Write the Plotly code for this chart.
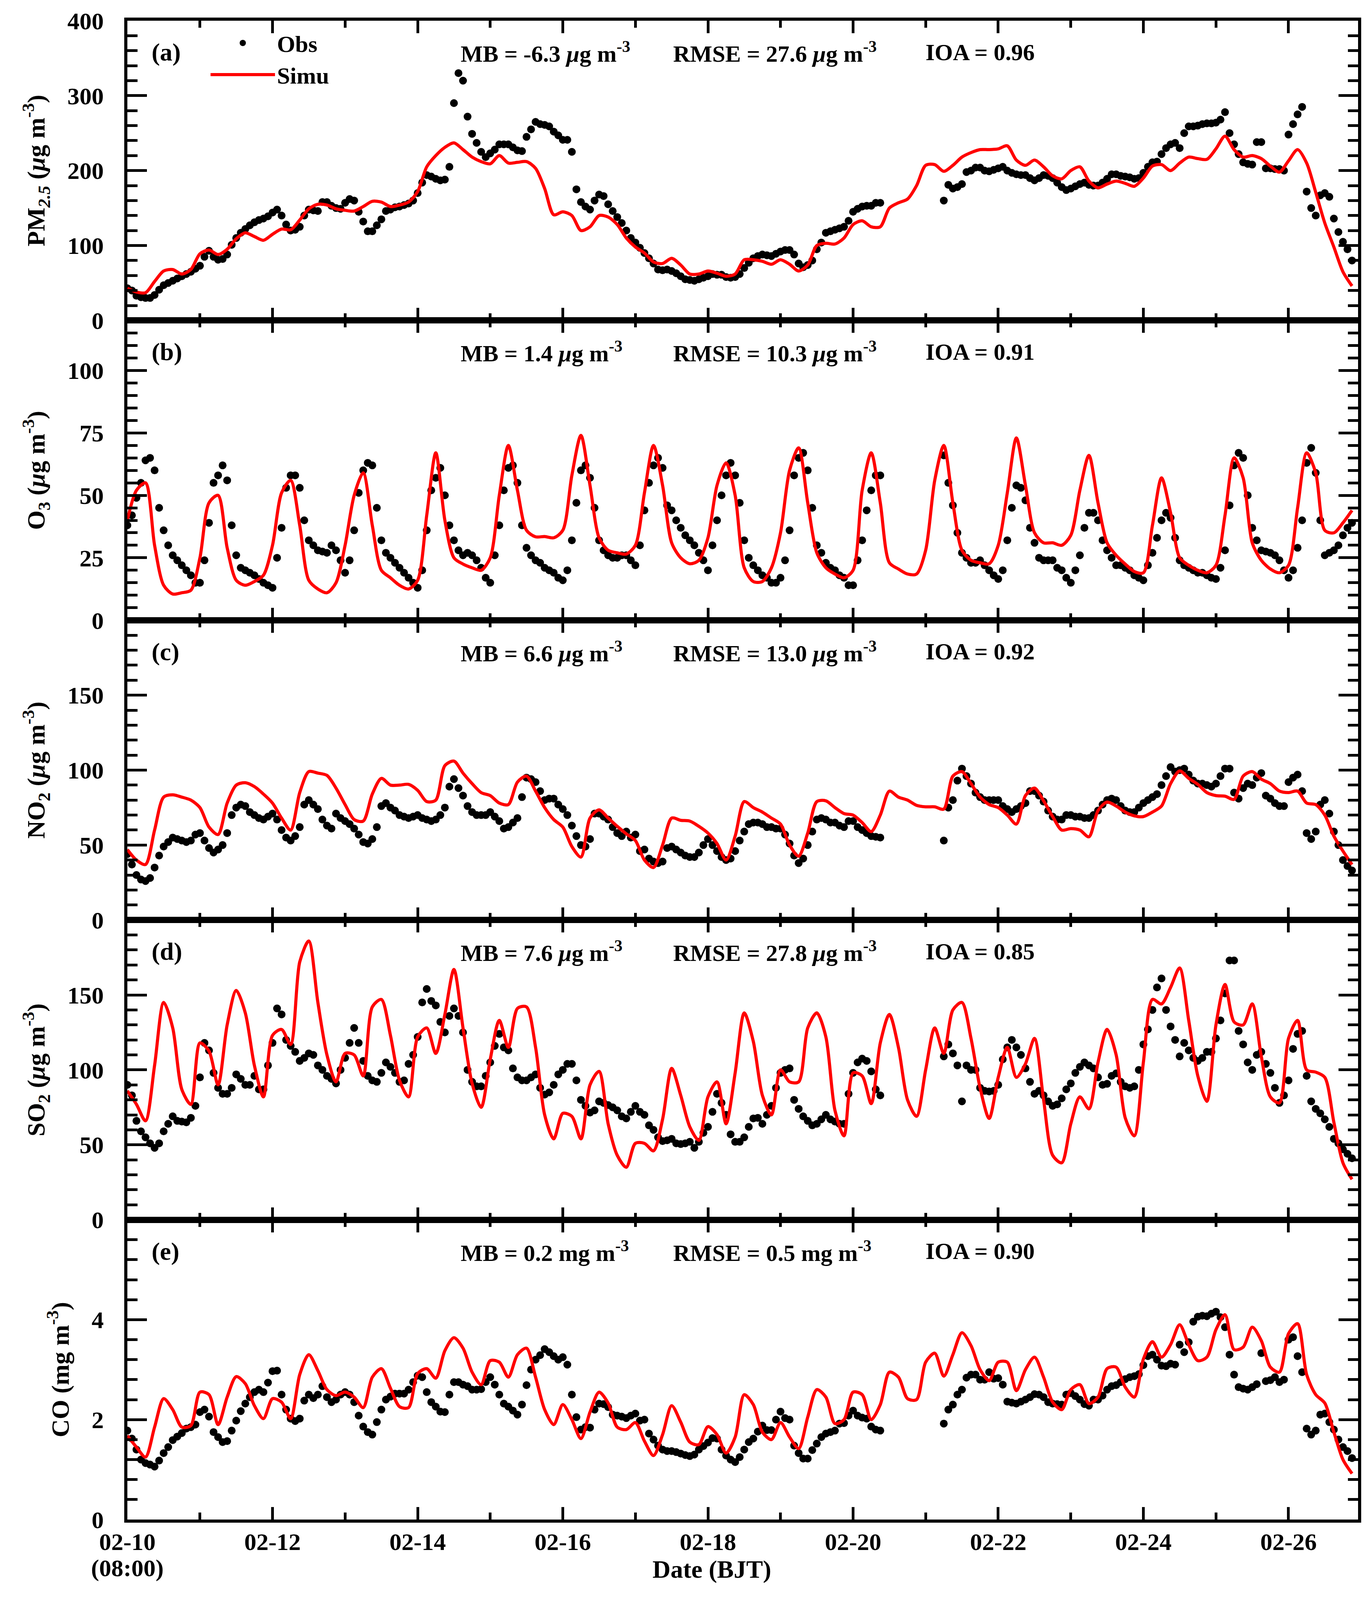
import plotly.graph_objects as go
from plotly.subplots import make_subplots

# hours since 02-10 08:00 (BJT): readings every 3 h, plus the observations read in between
hours = list(range(0, 406, 3))
hours_mid = [h + 1.5 for h in hours[:-1]]
GAP = [None] * 6
GAP_MID = [None] * 7

pm_obs = [43, 33, 30, 34, 47, 53, 59, 65, 73, 93, 81, 88, 110, 122, 131, 136, 144, 140, 120, 125,
          148, 146, 158, 150, 157, 160, 132, 119, 135, 148, 152, 156, 170, 194, 189, 188, 290, 320, 249, 225,
          223, 235, 235, 227, 245, 265, 261, 252, 241, 225, 158, 148, 168, 155, 138, 120, 104, 90, 76, 67,
          66, 59, 54, 55, 59, 61, 58, 58, 70, 83, 88, 86, 92, 94, 76, 74, 95, 117, 121, 125,
          145, 152, 153, 157] + GAP + \
         [160, 176, 182, 200, 204, 199, 203, 200, 195, 194, 187, 194, 190, 178, 176, 182, 181, 180, 189, 195,
          192, 189, 197, 211, 222, 235, 230, 259, 260, 263, 264, 278, 235, 211, 208, 238, 203, 202, 248, 275,
          172, 140, 170, 136, 105, 80]
pm_obs_mid = [40, 31, 30, 41, 50, 56, 62, 69, 85, 85, 82, 101, 117, 127, 134, 139, 148, 128, 121, 140,
              147, 158, 153, 149, 162, 145, 119, 127, 146, 151, 154, 160, 184, 192, 187, 205, 330, 272, 237, 218,
              228, 235, 231, 226, 255, 262, 259, 247, 241, 175, 152, 160, 166, 146, 130, 110, 97, 83, 68, 68,
              63, 55, 53, 57, 62, 61, 57, 62, 77, 86, 87, 89, 94, 88, 71, 80, 104, 119, 123, 133,
              149, 153, 157] + GAP_MID + \
             [181, 178, 198, 204, 200, 201, 205, 197, 194, 190, 190, 193, 184, 174, 179, 184, 180, 184, 195, 193,
              191, 190, 205, 212, 230, 237, 250, 259, 262, 263, 268, 250, 222, 209, 238, 203, 202, 200, 262, 285,
              150, 167, 165, 118, 95]
pm_sim = [43, 38, 37, 52, 66, 68, 62, 68, 89, 94, 88, 95, 109, 117, 112, 107, 115, 122, 121, 134,
          149, 155, 154, 149, 147, 146, 152, 159, 158, 152, 154, 158, 172, 205, 220, 231, 237, 228, 218, 212,
          209, 220, 210, 211, 212, 203, 176, 141, 145, 140, 120, 125, 140, 138, 128, 110, 98, 90, 78, 76,
          83, 74, 62, 62, 66, 63, 59, 62, 81, 81, 79, 75, 81, 75, 66, 74, 100, 103, 102, 110,
          128, 133, 125, 125, 150, 157, 162, 180, 207, 208, 199, 207, 218, 224, 228, 228, 229, 233, 214, 207,
          214, 205, 193, 189, 200, 205, 186, 177, 182, 186, 183, 179, 190, 206, 208, 200, 210, 218, 216, 215,
          229, 246, 228, 218, 220, 216, 206, 198, 213, 228, 210, 171, 130, 98, 65, 46]

o3_obs = [38, 49, 64, 60, 36, 26, 22, 18, 15, 39, 58, 56, 26, 20, 18, 15, 13, 37, 58, 53,
          32, 28, 27, 28, 19, 36, 60, 62, 32, 25, 21, 17, 13, 36, 57, 50, 32, 26, 26, 21,
          15, 38, 61, 55, 29, 24, 21, 19, 16, 32, 60, 57, 32, 26, 25, 26, 22, 44, 62, 61,
          44, 37, 32, 27, 20, 40, 58, 58, 32, 22, 18, 15, 17, 36, 65, 60, 30, 23, 20, 17,
          14, 32, 52, 58] + GAP + \
         [66, 46, 27, 23, 24, 20, 16.5, 32, 54, 48, 31, 24, 24, 20, 15, 26, 43, 40, 28, 22,
          21, 18, 16, 27, 40, 41, 24, 21, 19, 18, 16.5, 28, 62, 65, 37, 28, 27, 24, 17, 29,
          63, 59, 26, 28, 34, 39]
o3_obs_mid = [42, 55, 65, 45, 30, 24, 20, 15, 24, 55, 62, 38, 21, 19, 16.5, 14, 25, 53, 58, 40,
              30, 27.5, 30, 24, 24, 51, 63, 45, 27, 23, 19, 15, 20, 52, 61, 38, 28, 27, 24, 17,
              26, 52, 62, 38, 26, 23, 20, 17, 20, 47, 62, 45, 28, 25, 26, 24, 30, 55, 65, 46,
              40, 34, 30, 24, 30, 50, 63, 47, 25, 20, 17, 15, 24, 58, 67, 45, 27, 21, 18, 14,
              24, 44, 58] + GAP_MID + \
             [55, 35, 25, 23, 22, 18, 20, 45, 53, 37, 25, 24, 21, 17, 20, 37, 43, 32, 25, 22,
              20, 17, 22, 33, 43, 33, 22, 20, 19, 17, 21, 46, 67, 50, 32, 27.5, 26, 20, 20, 40,
              69, 40, 27, 30, 37]
o3_sim = [40, 52, 55, 30, 14, 10.5, 11, 12, 25, 47, 50, 29, 16, 14, 15.5, 18, 30, 51, 56, 38,
          16, 12.5, 11, 15, 30, 50, 59, 38, 20, 17, 14, 12.5, 16, 42, 67, 40, 25, 22.5, 21, 20,
          25, 50, 70, 52, 36, 33.4, 33.5, 33, 36, 58, 74, 54, 33, 28, 27, 26.5, 30, 51, 70, 54,
          31, 25, 22.6, 24, 33, 54, 63, 50, 21, 15.5, 15.5, 21, 35, 60, 69, 47, 27, 21, 18.5, 17,
          20, 52, 67, 47, 23, 20.5, 18.5, 18.5, 28, 56, 70, 47, 28, 24, 23, 22.6, 30, 51, 73, 54,
          35, 31, 31, 30, 34, 52, 66, 47, 31, 26, 22.5, 19.5, 19, 38, 57, 43, 25, 22, 20, 19,
          22, 42, 65, 57, 31, 24, 20.5, 19, 22, 45, 67, 59, 36, 35, 39, 44]

no2_obs = [44, 30, 26, 35, 49, 55, 53, 53, 58, 48, 47, 58, 75, 76, 70, 67, 71, 60, 53, 62,
           80, 74, 63, 71, 66, 61, 52, 54, 76, 75, 70, 68, 70, 67, 67, 75, 94, 83, 72, 70,
           72, 66, 62, 68, 95, 92, 80, 81, 74, 63, 50, 54, 71, 67, 58, 59, 57, 47, 39, 39,
           49, 45, 42, 45, 54, 46, 40, 46, 59, 65, 64, 62, 61, 51, 38, 50, 67, 67, 65, 62,
           66, 60, 56, 55] + GAP + \
          [53, 80, 101, 91, 82, 80, 80, 74, 74, 78, 86, 79, 69, 67, 70, 69, 68, 73, 80, 80,
           73, 72, 78, 82, 90, 102, 100, 97, 91, 90, 91, 101, 85, 88, 90, 98, 81, 76, 92, 97,
           58, 59, 80, 59, 40, 33]
no2_obs_mid = [37, 27, 28, 43, 52, 54, 52, 57, 53, 45, 50, 70, 77, 72, 68, 69, 67, 55, 56, 77,
               77, 67, 61, 68, 64, 57, 51, 62, 78, 73, 69, 69, 68, 66, 70, 89, 88, 76, 70, 70,
               69, 61, 65, 82, 94, 86, 81, 77, 70, 56, 49, 71, 69, 62, 56, 55, 46, 41, 38, 48,
               47, 43, 42, 50, 50, 42, 41, 53, 64, 65, 62, 61, 57, 43, 41, 59, 68, 65, 63, 66,
               62, 58, 55.5] + GAP_MID + \
              [75, 93, 96, 85, 80, 80, 76, 72, 76, 86, 83, 73, 67, 70, 69, 68, 70, 77, 81, 76,
               72, 75, 80, 84, 96, 99, 101, 93, 91, 89, 96, 101, 81, 91, 95, 83, 78, 76, 95, 86,
               54, 77, 71, 50, 36]
no2_sim = [47, 40, 37, 60, 82, 83.5, 82, 80, 75, 62, 57, 78, 90, 91.6, 89, 84, 78, 68, 60, 85,
           99, 98, 96.5, 88, 77, 67, 66, 84, 94.5, 90, 90, 90.5, 86.5, 79, 80, 103, 106, 98, 91, 85,
           83, 78, 77, 92, 96, 86, 75, 67, 62, 49, 42, 68, 73.5, 68, 62.5, 57.5, 53, 40, 35, 50,
           68, 66.5, 66, 62.5, 58, 51, 40, 56, 79, 75, 72, 68, 64, 50, 42.6, 58, 79, 79.5, 75, 71,
           70, 65, 59, 70, 86, 82, 80, 76.5, 75.5, 75.5, 74, 96, 99, 91, 82, 77, 75, 70, 64, 83,
           88, 79.5, 69, 60, 61, 60, 55.5, 73, 78.7, 76, 72, 69.5, 69, 72, 76, 91, 99.5, 94.5, 90.5, 85,
           83, 82.6, 80.5, 96, 99, 94, 91, 86, 85, 86, 78, 77, 70, 56, 46, 37]

so2_obs = [90, 66, 55, 48, 59, 69, 65.5, 68, 95, 113, 88, 84, 97, 90, 96, 87, 118, 137, 116, 106,
           111, 103, 96, 91, 108, 128, 106, 93, 98, 102, 92, 104, 122, 154, 143, 125, 141, 125, 92, 89,
           105, 124, 113, 95, 93, 97, 83.5, 90, 100, 104, 80, 71.5, 79, 76.5, 73, 67.6, 76, 70, 60, 52.5,
           54, 50.5, 52, 52, 62, 84, 70, 52, 55, 67.6, 64, 76, 98, 101, 74, 66, 64, 70, 65.5, 64,
           98, 107.5, 99, 83] + GAP + \
          [109, 111, 79, 100, 88, 85.6, 90, 115, 115, 101, 84, 83, 76, 81, 91, 102, 103, 95, 90.7, 97.7,
           89, 89, 117, 140, 161, 129, 109, 113, 106, 112, 121, 151, 173, 117, 100, 112, 98, 78, 93, 124,
           96, 74, 67, 54, 47, 41]
so2_obs_mid = [83, 59, 51, 51, 64, 66, 65, 76, 118, 98, 84, 88, 94, 90, 87, 103, 141, 120, 112, 108,
               110, 100, 94, 100, 118, 118, 96, 92, 105, 98, 93, 110, 145, 146, 132, 136, 136, 100, 89, 96,
               116, 115, 101, 93, 95, 88, 85, 97, 104, 93, 76, 73, 78, 75, 69, 72, 72, 63, 55, 53,
               51, 51, 48, 58, 72, 78, 57, 52, 62, 68, 70, 88, 100, 80, 69, 63, 67, 67, 64, 84,
               105, 106, 87] + GAP_MID + \
              [117, 103, 103, 100, 86, 86, 107, 120, 110, 92, 86, 79, 77, 87, 98, 105, 101, 90, 96, 92,
               88, 100, 127, 155, 140, 120, 118, 108, 108, 112, 133, 173, 126, 105, 110, 104, 88, 83, 114, 126,
               79, 71, 62, 51, 44]
so2_sim = [86, 77, 66, 103, 145, 128, 87, 77, 118, 112.6, 90, 130, 153, 138, 103, 82, 123, 127, 117, 172,
           186, 145, 110, 92, 111, 110, 96, 142, 147, 123, 93, 82, 122, 128, 111, 137, 167, 128, 91, 75,
           107, 133, 115, 141, 142, 115, 70, 54, 71, 69, 54, 90, 99, 64, 43, 35, 51, 51, 46, 67,
           101, 83, 62, 53, 82, 92, 64, 98, 138, 119, 83, 70, 100, 92, 92, 128, 138, 122, 73, 56,
           98, 96, 77.5, 118, 137, 115, 80, 69, 100, 128, 111, 140, 145, 121, 88, 67.6, 95, 115, 95, 104,
           121, 80, 43, 38, 64, 82, 74, 105, 127, 110, 68, 56, 105, 147, 144, 155, 168, 133, 96, 79,
           130, 157, 132, 130, 144, 109, 82, 78, 121, 133, 100, 98.5, 95, 65, 38, 27]

co_obs = [1.78, 1.40, 1.13, 1.06, 1.33, 1.59, 1.73, 1.85, 2.15, 2.06, 1.65, 1.57, 1.98, 2.32, 2.55, 2.55,
          2.97, 2.50, 2.02, 2.02, 2.50, 2.50, 2.45, 2.40, 2.55, 2.35, 1.86, 1.70, 2.20, 2.46, 2.52, 2.60,
          2.88, 2.55, 2.26, 2.15, 2.75, 2.70, 2.60, 2.61, 2.85, 2.50, 2.26, 2.10, 2.69, 3.20, 3.41, 3.27,
          3.25, 2.50, 1.80, 1.84, 2.32, 2.25, 2.08, 2.03, 2.12, 2.00, 1.60, 1.40, 1.37, 1.32, 1.27, 1.40,
          1.54, 1.62, 1.28, 1.15, 1.40, 1.62, 1.88, 1.79, 2.16, 2.00, 1.33, 1.22, 1.52, 1.72, 1.78, 1.93,
          2.18, 2.04, 1.86, 1.78] + GAP + \
         [1.92, 2.30, 2.60, 2.90, 2.80, 2.95, 2.83, 2.36, 2.32, 2.40, 2.51, 2.45, 2.32, 2.30, 2.53, 2.40,
          2.28, 2.40, 2.60, 2.69, 2.81, 2.87, 3.09, 3.30, 3.08, 3.12, 3.50, 3.55, 4.06, 4.07, 4.16, 3.85,
          2.90, 2.62, 2.65, 3.33, 2.79, 2.75, 3.60, 3.27, 1.82, 1.78, 2.12, 1.80, 1.45, 1.23]
co_obs_mid = [1.62, 1.20, 1.10, 1.18, 1.45, 1.66, 1.82, 1.90, 2.20, 1.75, 1.55, 1.78, 2.17, 2.45, 2.60, 2.74,
              2.98, 2.20, 1.97, 2.38, 2.43, 2.67, 2.35, 2.50, 2.50, 2.08, 1.75, 1.95, 2.40, 2.52, 2.52, 2.75,
              2.85, 2.35, 2.16, 2.50, 2.75, 2.67, 2.60, 2.75, 2.70, 2.32, 2.18, 2.30, 3.00, 3.29, 3.35, 3.20,
              3.10, 2.05, 1.85, 2.20, 2.31, 2.10, 2.06, 2.08, 1.98, 1.72, 1.48, 1.37, 1.35, 1.29, 1.30, 1.47,
              1.63, 1.40, 1.20, 1.25, 1.55, 1.76, 1.79, 2.00, 2.03, 1.48, 1.22, 1.39, 1.65, 1.75, 1.92, 2.08,
              2.08, 2.02, 1.80] + GAP_MID + \
             [2.20, 2.50, 2.84, 2.90, 2.80, 2.82, 2.70, 2.34, 2.36, 2.45, 2.50, 2.35, 2.31, 2.50, 2.47, 2.31,
              2.40, 2.48, 2.67, 2.75, 2.85, 2.91, 3.27, 3.20, 3.07, 3.10, 3.35, 3.96, 4.08, 4.12, 4.05, 3.30,
              2.65, 2.60, 2.71, 2.77, 2.85, 2.80, 3.65, 2.95, 1.70, 2.10, 1.95, 1.60, 1.37]
co_sim = [1.68, 1.45, 1.25, 1.85, 2.42, 2.20, 1.85, 1.88, 2.55, 2.50, 1.90, 2.45, 2.86, 2.72, 2.28, 2.02,
          2.42, 2.35, 2.02, 2.90, 3.30, 2.98, 2.60, 2.48, 2.55, 2.45, 2.24, 2.85, 3.02, 2.63, 2.26, 2.24,
          2.92, 3.02, 2.83, 3.38, 3.64, 3.43, 2.95, 2.70, 3.18, 3.15, 2.85, 3.30, 3.43, 2.85, 2.20, 1.90,
          2.30, 2.00, 1.62, 2.15, 2.55, 2.33, 1.85, 1.80, 1.94, 1.57, 1.28, 1.70, 2.28, 1.95, 1.55, 1.50,
          1.86, 1.70, 1.33, 1.65, 2.50, 2.30, 1.75, 1.60, 1.94, 1.65, 1.42, 2.05, 2.60, 2.45, 1.92, 2.00,
          2.55, 2.50, 2.00, 2.30, 2.95, 2.85, 2.42, 2.40, 3.15, 3.33, 2.87, 3.30, 3.74, 3.48, 3.00, 2.78,
          3.15, 3.15, 2.58, 3.00, 3.25, 2.85, 2.35, 2.20, 2.60, 2.70, 2.32, 2.45, 3.02, 3.05, 2.65, 2.45,
          3.21, 3.56, 3.25, 3.50, 3.90, 3.50, 3.18, 3.25, 3.80, 4.10, 3.40, 3.45, 3.85, 3.58, 3.05, 2.95,
          3.72, 3.92, 2.90, 2.50, 2.33, 1.75, 1.20, 0.92]

date_ticks = [0, 48, 96, 144, 192, 240, 288, 336, 384]
date_labels = ["02-10", "02-12", "02-14", "02-16", "02-18", "02-20", "02-22", "02-24", "02-26"]
start_hour_label = "(08:00)"

panel_tags = ["(a)", "(b)", "(c)", "(d)", "(e)"]
y_titles = ["PM<sub><i>2.5</i></sub> (<i>\u03bc</i>g m<sup>-3</sup>)",
            "O<sub>3</sub> (<i>\u03bc</i>g m<sup>-3</sup>)",
            "NO<sub>2</sub> (<i>\u03bc</i>g m<sup>-3</sup>)",
            "SO<sub>2</sub> (<i>\u03bc</i>g m<sup>-3</sup>)",
            "CO (mg m<sup>-3</sup>)"]
mb_vals = ["-6.3", "1.4", "6.6", "7.6", "0.2"]
rmse_vals = ["27.6", "10.3", "13.0", "27.8", "0.5"]
ioa_vals = ["0.96", "0.91", "0.92", "0.85", "0.90"]
units = ["<i>\u03bc</i>g m<sup>-3</sup>"] * 4 + ["mg m<sup>-3</sup>"]

y_ranges = [[0, 400], [0, 120], [0, 200], [0, 200], [0, 6]]
y_tickvals = [[0, 100, 200, 300, 400], [0, 25, 50, 75, 100], [0, 50, 100, 150], [0, 50, 100, 150], [0, 2, 4]]
y_minor = [20, 5, 10, 10, 0.4]

obs_series = [pm_obs, o3_obs, no2_obs, so2_obs, co_obs]
obs_mid_series = [pm_obs_mid, o3_obs_mid, no2_obs_mid, so2_obs_mid, co_obs_mid]
sim_series = [pm_sim, o3_sim, no2_sim, so2_sim, co_sim]

FONT = "Liberation Serif"
fig = make_subplots(rows=5, cols=1, shared_xaxes=True, vertical_spacing=0)

for i in range(5):
    row = i + 1
    fig.add_trace(go.Scatter(x=hours + hours_mid, y=obs_series[i] + obs_mid_series[i], mode="markers",
                             name="Obs", marker=dict(color="black", size=20), showlegend=(i == 0)),
                  row=row, col=1)
    fig.add_trace(go.Scatter(x=hours, y=sim_series[i], mode="lines", name="Simu",
                             line=dict(color="#ff0000", width=8, shape="spline", smoothing=0.8),
                             showlegend=(i == 0)), row=row, col=1)

    fig.update_yaxes(row=row, col=1, range=y_ranges[i], tickmode="array", tickvals=y_tickvals[i],
                     showline=True, linewidth=8, linecolor="black", mirror="ticks",
                     ticks="inside", ticklen=50, tickwidth=7, tickcolor="black",
                     minor=dict(dtick=y_minor[i], tick0=0, ticks="inside", ticklen=26, tickwidth=7,
                                tickcolor="black", showgrid=False),
                     showgrid=False, zeroline=False, ticklabelstandoff=40, ticklabeloverflow="allow",
                     tickfont=dict(family=FONT, size=62, color="black", weight="bold"),
                     title=dict(text=y_titles[i], standoff=40,
                                font=dict(family=FONT, size=64, color="black", weight="bold")))
    fig.update_xaxes(row=row, col=1, range=[0, 407], tickmode="array", tickvals=date_ticks,
                     ticktext=date_labels, showticklabels=(row == 5),
                     showline=True, linewidth=8, linecolor="black", mirror="ticks",
                     ticks="inside", ticklen=32, tickwidth=7, tickcolor="black",
                     minor=dict(dtick=24, tick0=0, ticks="inside", ticklen=18, tickwidth=7,
                                tickcolor="black", showgrid=False),
                     showgrid=False, zeroline=False, ticklabelstandoff=-4,
                     tickfont=dict(family=FONT, size=62, color="black", weight="bold"))

    top = 1 - 0.2 * i
    fig.add_annotation(x=0.019, y=top - 0.021, xref="paper", yref="paper", xanchor="left", yanchor="middle",
                       text=panel_tags[i], showarrow=False,
                       font=dict(family=FONT, size=64, color="black", weight="bold"))
    stats = ["MB = %s %s" % (mb_vals[i], units[i]),
             "RMSE = %s %s" % (rmse_vals[i], units[i]),
             "IOA = %s" % ioa_vals[i]]
    for sx, txt in zip([0.270, 0.443, 0.648], stats):
        fig.add_annotation(x=sx, y=top - 0.021, xref="paper", yref="paper", xanchor="left", yanchor="middle",
                           text=txt, showarrow=False,
                           font=dict(family=FONT, size=60, color="black", weight="bold"))

# second line under the first date label, and the axis title
fig.add_annotation(x=0, y=-0.0324, xref="paper", yref="paper", xanchor="center", yanchor="middle",
                   text=start_hour_label, showarrow=False,
                   font=dict(family=FONT, size=62, color="black", weight="bold"))
fig.add_annotation(x=0.475, y=-0.043, xref="paper", yref="paper", xanchor="center", yanchor="bottom",
                   text="Date (BJT)", showarrow=False,
                   font=dict(family=FONT, size=64, color="black", weight="bold"))

# the visible page is shorter than the window, so the figure is sized to fit inside it
fig.update_layout(width=3488, height=4050, plot_bgcolor="white", paper_bgcolor="white",
                  margin=dict(l=318, r=18, t=26, b=168),
                  font=dict(family=FONT, color="black"),
                  legend=dict(x=0.066, y=0.997, xanchor="left", yanchor="top", bgcolor="rgba(0,0,0,0)",
                              itemwidth=165, tracegroupgap=0,
                              font=dict(family=FONT, size=60, color="black", weight="bold")))

fig.write_html("out.html")
